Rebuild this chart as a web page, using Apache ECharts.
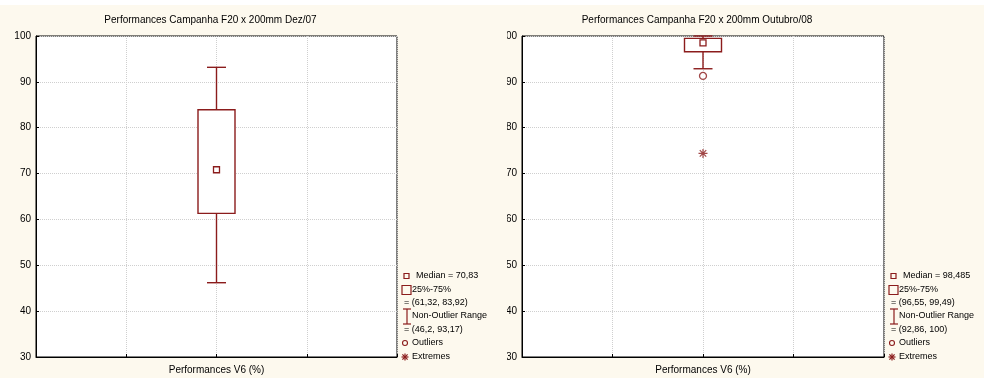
<!DOCTYPE html>
<html><head><meta charset="utf-8">
<script src="https://cdn.jsdelivr.net/npm/echarts@6/dist/echarts.min.js"></script>
<style>
html,body{margin:0;padding:0;width:984px;height:378px;background:#fdf9ee;overflow:hidden;position:relative}
#band{position:absolute;left:0;top:0;width:984px;height:5px;background:#fff}
#c0{position:absolute;left:0;top:0;width:490px;height:378px}
#c1{position:absolute;left:507px;top:0;width:477px;height:378px}
</style></head><body>
<div id="band"></div><div id="c0"></div><div id="c1"></div>
<script>
// Box-plot summaries for the two campaigns
const panelTitles = ['Performances Campanha F20 x 200mm Dez/07', 'Performances Campanha F20 x 200mm Outubro/08'];
const axisName = 'Performances V6 (%)';
const medians = [70.83, 98.485];
const quartile25 = [61.32, 96.55];
const quartile75 = [83.92, 99.49];
const rangeLow = [46.2, 92.86];
const rangeHigh = [93.17, 100];
const outliers = [[], [91.3]];
const extremes = [[], [74.4]];
const yMin = 30, yMax = 100, yStep = 10;

const RED = '#8b1c1c';
const FONT = 'Liberation Sans, Arial, sans-serif';
const fmt = v => String(v).replace('.', ',');

const layouts = [
  { el: 'c0', gridLeft: 36, gridRight: 93, width: 490 },
  { el: 'c1', gridLeft: 15, gridRight: 100, width: 477 }
];
const GRID_TOP = 36, GRID_BOTTOM = 21;

function legendGraphics(i, lay) {
  const pr = lay.width - lay.gridRight;   // right edge of the plot area
  const txt = (t, x, y) => ({
    type: 'text', silent: true,
    style: { text: t, x: x, y: y, fill: '#000', font: '9px ' + FONT, verticalAlign: 'middle' }
  });
  const ln = (x1, y1, x2, y2) => ({
    type: 'line', silent: true,
    shape: { x1, y1, x2, y2 }, style: { stroke: RED, lineWidth: 1.2 }
  });
  const ax = pr + 8, ay = 357;
  return [
    { type: 'rect', silent: true, shape: { x: pr + 7, y: 273.5, width: 5, height: 5 }, style: { fill: 'none', stroke: RED, lineWidth: 1.2 } },
    txt('Median = ' + fmt(medians[i]), pr + 19, 276),
    { type: 'rect', silent: true, shape: { x: pr + 5, y: 285.5, width: 9, height: 9 }, style: { fill: 'none', stroke: RED, lineWidth: 1.2 } },
    txt('25%-75%', pr + 15, 290),
    txt('= (' + fmt(quartile25[i]) + ', ' + fmt(quartile75[i]) + ')', pr + 7, 303),
    ln(pr + 10, 309, pr + 10, 324), ln(pr + 6, 309, pr + 14, 309), ln(pr + 6, 324, pr + 14, 324),
    txt('Non-Outlier Range', pr + 15, 316),
    txt('= (' + fmt(rangeLow[i]) + ', ' + fmt(rangeHigh[i]) + ')', pr + 7, 330),
    { type: 'circle', silent: true, shape: { cx: pr + 8, cy: 343, r: 2.5 }, style: { fill: 'none', stroke: RED, lineWidth: 1.1 } },
    txt('Outliers', pr + 15, 343),
    ln(ax - 3.5, ay, ax + 3.5, ay), ln(ax, ay - 3.5, ax, ay + 3.5),
    ln(ax - 2.6, ay - 2.6, ax + 2.6, ay + 2.6), ln(ax - 2.6, ay + 2.6, ax + 2.6, ay - 2.6),
    txt('Extremes', pr + 15, 357)
  ];
}

function buildOption(i, lay) {
  const plotW = lay.width - lay.gridLeft - lay.gridRight;
  const asterisk = 'path://M0,-5L0,5M-5,0L5,0M-3.6,-3.6L3.6,3.6M-3.6,3.6L3.6,-3.6';
  return {
    animation: false,
    textStyle: { fontFamily: FONT },
    title: {
      text: panelTitles[i],
      left: lay.gridLeft + plotW / 2 - 11, top: 10, textAlign: 'center',
      textStyle: { fontSize: 10, fontWeight: 'normal', color: '#000', fontFamily: FONT }
    },
    grid: {
      left: lay.gridLeft, right: lay.gridRight, top: GRID_TOP, bottom: GRID_BOTTOM,
      outerBoundsMode: 'none', containLabel: false,
      show: true, backgroundColor: '#fff', borderColor: '#000', borderWidth: 1
    },
    xAxis: {
      type: 'value', min: 0, max: 4, interval: 1,
      axisLabel: { show: false },
      axisLine: { show: true, lineStyle: { color: '#000' } },
      axisTick: { show: true, inside: true, length: 3, lineStyle: { color: '#000' } },
      splitLine: { show: true, lineStyle: { color: '#cfcfcf', type: 'dotted' } },
      name: axisName, nameLocation: 'middle', nameGap: 8,
      nameTextStyle: { fontSize: 10, color: '#000', fontFamily: FONT }
    },
    yAxis: {
      type: 'value', min: yMin, max: yMax, interval: yStep,
      axisLine: { show: true, lineStyle: { color: '#000' } },
      axisTick: { show: true, inside: true, length: 3, lineStyle: { color: '#000' } },
      axisLabel: { fontSize: 10, color: '#000', margin: 5, fontFamily: FONT },
      splitLine: { show: true, lineStyle: { color: '#cfcfcf', type: 'dotted' } }
    },
    graphic: legendGraphics(i, lay),
    series: [
      {
        type: 'custom',
        data: [[2, rangeLow[i], quartile25[i], medians[i], quartile75[i], rangeHigh[i]]],
        encode: { x: 0, y: [1, 2, 3, 4, 5] },
        renderItem: function (params, api) {
          const x = api.value(0);
          const pLow = api.coord([x, api.value(1)]);
          const pQ1 = api.coord([x, api.value(2)]);
          const pMed = api.coord([x, api.value(3)]);
          const pQ3 = api.coord([x, api.value(4)]);
          const pHigh = api.coord([x, api.value(5)]);
          const cx = pMed[0];
          const boxW = 37, capW = 19, sq = 6;
          const st = { stroke: RED, lineWidth: 1.4, fill: null };
          return {
            type: 'group',
            children: [
              { type: 'line', shape: { x1: cx, y1: pQ1[1], x2: cx, y2: pLow[1] }, style: st },
              { type: 'line', shape: { x1: cx, y1: pQ3[1], x2: cx, y2: pHigh[1] }, style: st },
              { type: 'line', shape: { x1: cx - capW / 2, y1: pLow[1], x2: cx + capW / 2, y2: pLow[1] }, style: st },
              { type: 'line', shape: { x1: cx - capW / 2, y1: pHigh[1], x2: cx + capW / 2, y2: pHigh[1] }, style: st },
              { type: 'rect', shape: { x: cx - boxW / 2, y: pQ3[1], width: boxW, height: pQ1[1] - pQ3[1] }, style: { stroke: RED, lineWidth: 1.4, fill: '#fff' } },
              { type: 'rect', shape: { x: cx - sq / 2, y: pMed[1] - sq / 2, width: sq, height: sq }, style: { stroke: RED, lineWidth: 1.3, fill: '#fff' } }
            ]
          };
        },
        z: 3
      },
      {
        type: 'scatter',
        data: outliers[i].map(v => [2, v]),
        symbol: 'circle', symbolSize: 7,
        itemStyle: { color: '#fff', borderColor: RED, borderWidth: 1.3 },
        z: 4
      },
      {
        type: 'scatter',
        data: extremes[i].map(v => [2, v]),
        symbol: asterisk, symbolSize: 9,
        itemStyle: { color: 'none', borderColor: RED, borderWidth: 1.2 },
        z: 4
      }
    ]
  };
}

layouts.forEach((lay, i) => {
  const chart = echarts.init(document.getElementById(lay.el), null, { renderer: 'canvas' });
  chart.setOption(buildOption(i, lay));
});
</script>
</body></html>
